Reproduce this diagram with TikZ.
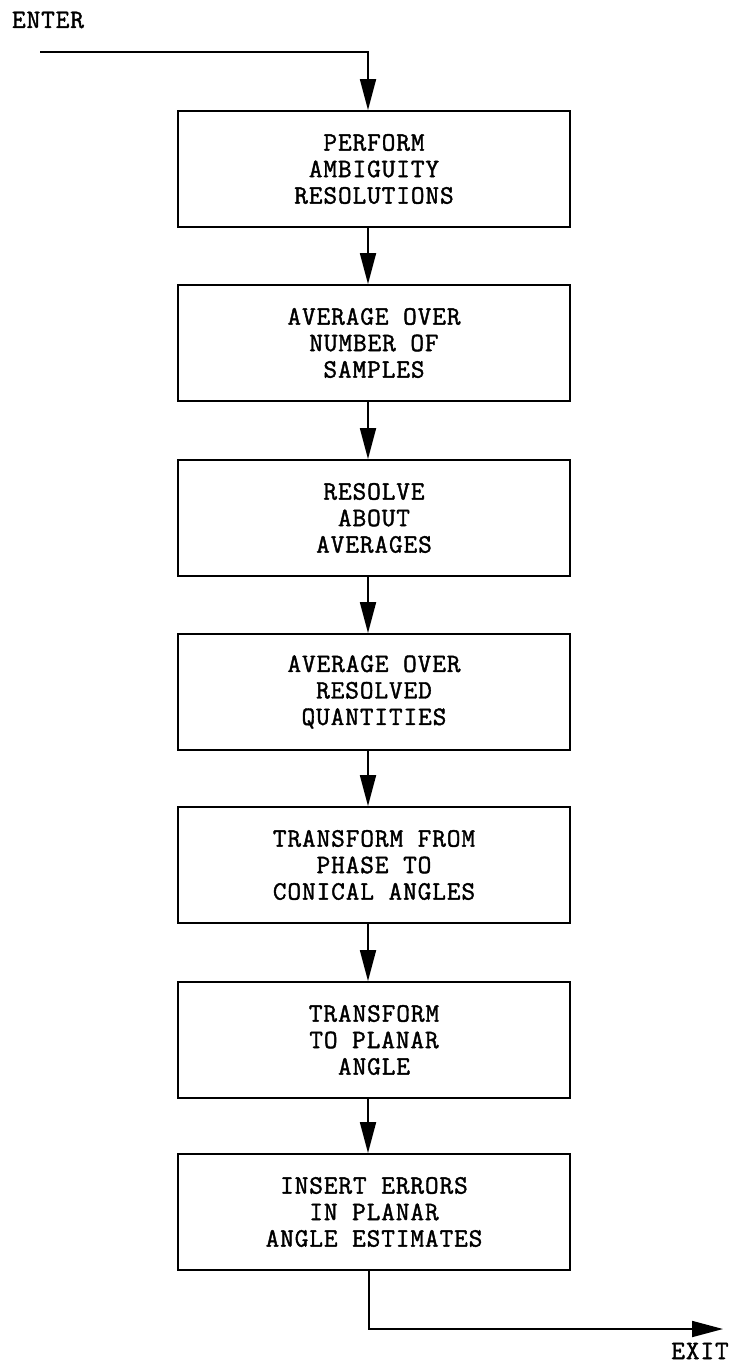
\documentclass[tikz,border=0pt]{standalone}
\usepackage{fontspec}
\setmonofont[LetterSpace=3.5,FakeBold=1.5]{Latin Modern Mono}
\usetikzlibrary{arrows.meta}
\tikzset{
  stepbox/.style={draw, line width=1.8pt, minimum width=392pt, minimum height=116pt,
    inner sep=0pt, align=center, font=\ttfamily\fontsize{26.5}{26.5}\selectfont},
  lbl/.style={inner sep=0pt, font=\ttfamily\fontsize{26.5}{26.5}\selectfont},
  flow/.style={line width=1.8pt, -{Triangle[length=31pt,width=16pt]}},
}
\begin{document}
\begin{tikzpicture}[x=1pt,y=-1pt]
\useasboundingbox (0,0) rectangle (745,1366);
\node[lbl] (enter) at (48,20) {ENTER};
\node[stepbox] (b1) at (374,169) {PERFORM\\AMBIGUITY\\RESOLUTIONS};
\node[stepbox] (b2) at (374,343) {AVERAGE OVER\\NUMBER OF\\SAMPLES};
\node[stepbox] (b3) at (374,518) {RESOLVE\\ABOUT\\AVERAGES};
\node[stepbox] (b4) at (374,692) {AVERAGE OVER\\RESOLVED\\QUANTITIES};
\node[stepbox] (b5) at (374,865) {TRANSFORM FROM\\PHASE TO\\CONICAL ANGLES};
\node[stepbox] (b6) at (374,1040) {TRANSFORM\\TO PLANAR\\ANGLE};
\node[stepbox] (b7) at (374,1212) {INSERT ERRORS\\IN PLANAR\\ANGLE ESTIMATES};
\node[lbl] (exit) at (700,1351) {EXIT};
\coordinate (ein) at (40,52);
\coordinate (eout) at (723,1329);
\draw[flow] (ein) -| ([xshift=-6pt]b1.north);
\foreach \a/\b in {b1/b2,b2/b3,b3/b4,b4/b5,b5/b6,b6/b7}
  \draw[flow] ([xshift=-6pt]\a.south) -- ([xshift=-6pt]\b.north);
\draw[flow] ([xshift=-5pt]b7.south) |- (eout);
\end{tikzpicture}
\end{document}
